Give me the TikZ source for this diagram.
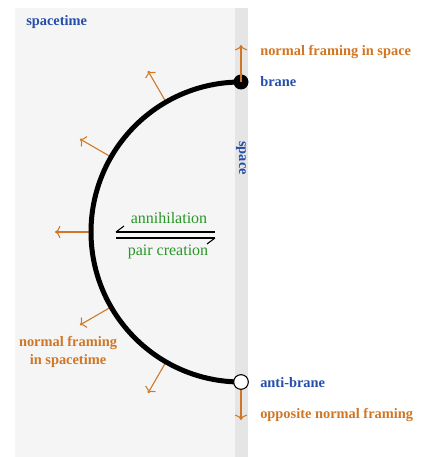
\documentclass[tikz,border=0pt]{standalone}
\usepackage{fontspec}
\setmainfont{Liberation Serif}
\usetikzlibrary{arrows.meta,calc}

\definecolor{framing}{RGB}{208,118,36}
\definecolor{branecol}{RGB}{36,78,170}
\definecolor{processcol}{RGB}{40,150,40}

\begin{document}
\begin{tikzpicture}[x=0.75pt,y=0.75pt]
\tikzstyle{blabel} = [font=\fontsize{10.8}{13.5}\selectfont\bfseries, text=branecol, inner sep=0pt]
\tikzstyle{flabel} = [font=\fontsize{10.8}{13.5}\selectfont\bfseries, text=framing, inner sep=0pt]
\tikzstyle{plabel} = [font=\fontsize{12}{14}\selectfont, text=processcol, inner sep=0pt]
\tikzstyle{normal} = [framing, line width=0.8pt, -{To[length=4pt,width=9pt]}]
\tikzstyle{worldline} = [line width=3.75pt]
\tikzstyle{harpoon} = [line width=0.8pt]

    \useasboundingbox (0,0) rectangle (440,457);

    % spacetime and space
    \fill [black!4] (15,0) rectangle (248,449);
    \fill [black!10] (235,0) rectangle (248,449);

    \coordinate (c) at (241,225);

    % normal framing along the arc
    \foreach \a in {120,150,180,210,240} {
        \coordinate (s\a) at ($(c)+(\a:150)$);
        \coordinate (e\a) at ($(c)+(\a:186)$);
        \draw [normal] (s\a) -- (e\a);
    }

	\draw [worldline] (241,375) arc (90:270:150);

    \node (brane) at (241,375) [circle, fill=black, inner sep=0pt, minimum size=11.25pt] {};
    \node (anti) at (241,75) [circle, draw=black, fill=white, line width=0.8pt, inner sep=0pt, minimum size=11pt] {};

    \coordinate (up) at (241,412);
    \coordinate (down) at (241,37);
    \draw [normal] (brane.center) -- (up);
    \draw [normal] (anti.south) -- (down);

    \node (spacetime) at (26,435) [blabel, anchor=west] {spacetime};
    \node (space) at (241,299) [blabel, rotate=-90] {space};
    \node (branelab) at (260,375) [blabel, anchor=west] {brane};
    \node (antilab) at (260,74) [blabel, anchor=west] {anti-brane};
    \node (fspace) at (260,405) [flabel, anchor=west] {normal framing in space};
    \node (fopp) at (260,42) [flabel, anchor=west] {opposite normal framing};
    \node (fst) at (68,105) [flabel, align=center] {normal framing\\in spacetime};

    \node (ann) at (169,239) [plabel] {annihilation};
    \node (pc) at (168,205) [plabel] {pair creation};

    \coordinate (hl) at (116,225);
    \coordinate (hr) at (215,225);
    \coordinate (kl) at (116,219);
    \coordinate (kr) at (215,219);
    \draw [harpoon] (hl) -- (hr);
    \draw [harpoon] (kl) -- (kr);
    \draw [harpoon] (hl) -- ++(8,6);
    \draw [harpoon] (kr) -- ++(-8,-6);
\end{tikzpicture}
\end{document}
